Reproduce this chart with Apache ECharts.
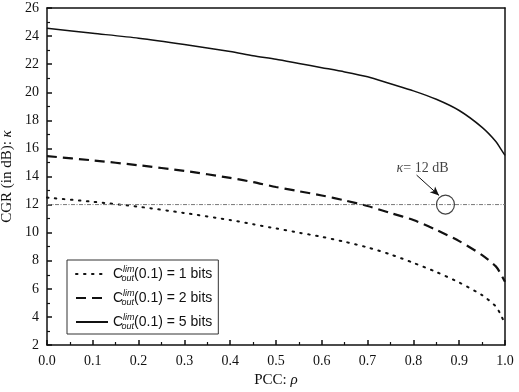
<!DOCTYPE html>
<html>
<head>
<meta charset="utf-8">
<script src="https://cdn.jsdelivr.net/npm/echarts@6/dist/echarts.min.js"></script>
<style>
  html, body { margin: 0; padding: 0; background: #fff; }
  #chart { width: 519px; height: 392px; }
</style>
</head>
<body>
<div id="chart"></div>
<script>
// PCC values (x) and CGR readings for each curve
var rho = [0, 0.1, 0.2, 0.3, 0.4, 0.45, 0.5, 0.55, 0.6, 0.65, 0.7, 0.75, 0.8, 0.85, 0.9, 0.95, 0.98, 0.99, 1.0]
var bits1 = [12.5, 12.2, 11.85, 11.4, 10.9, 10.6, 10.3, 10.0, 9.7, 9.35, 8.95, 8.45, 7.85, 7.2, 6.45, 5.55, 4.75, 4.2, 3.5]
var bits2 = [15.45, 15.15, 14.8, 14.4, 13.9, 13.6, 13.25, 12.95, 12.65, 12.3, 11.9, 11.4, 10.9, 10.2, 9.4, 8.4, 7.6, 7.1, 6.5]
var bits5 = [24.55, 24.2, 23.85, 23.4, 22.9, 22.6, 22.35, 22.05, 21.75, 21.45, 21.1, 20.6, 20.1, 19.5, 18.7, 17.5, 16.5, 16.0, 15.5]
var kappaLine = 12

function pairs(ys) {
  return rho.map(function (x, i) { return [x, ys[i]] })
}

var serif = '"Liberation Serif", "DejaVu Serif", serif'
var sans = '"Liberation Sans", Arial, sans-serif'

var myChart = echarts.init(document.getElementById('chart'))

var option = {
  animation: false,
  backgroundColor: '#fff',
  grid: {
    left: 47,
    right: 14,
    top: 8,
    bottom: 47,
    outerBoundsMode: 'none'
  },
  legend: {
    left: 67,
    top: 260,
    orient: 'vertical',
    itemWidth: 32,
    itemHeight: 10,
    itemGap: 6,
    padding: [5, 6, 3, 8],
    borderColor: '#333',
    borderWidth: 1,
    backgroundColor: '#fff',
    itemStyle: { opacity: 0 },
    data: ['b1', 'b2', 'b5'],
    formatter: function (n) {
      var b = n.slice(1)
      return '{c|C}{sup|lim}{sub|out}{t|(0.1) = ' + b + ' bits}'
    },
    textStyle: {
      color: '#111',
      fontFamily: sans,
      rich: {
        c: { fontSize: 14, fontFamily: sans, color: '#111' },
        sup: { fontSize: 9, fontStyle: 'italic', fontFamily: sans, color: '#111', verticalAlign: 'top', padding: [0, 0, 9, 0] },
        sub: { fontSize: 9, fontStyle: 'italic', fontFamily: sans, color: '#111', verticalAlign: 'bottom', padding: [8, 0, 0, -13] },
        t: { fontSize: 14, fontFamily: sans, color: '#111' }
      }
    }
  },
  xAxis: [{
    type: 'value',
    min: 0,
    max: 1,
    interval: 0.1,
    name: 'PCC: {i|ρ}',
    nameLocation: 'middle',
    nameGap: 28,
    nameTextStyle: {
      fontFamily: serif,
      fontSize: 15,
      color: '#111',
      rich: { i: { fontStyle: 'italic', fontFamily: serif, fontSize: 15, color: '#111' } }
    },
    axisLine: { onZero: false, lineStyle: { color: '#111', width: 1.5 } },
    axisTick: { inside: true, length: 5, lineStyle: { color: '#111', width: 1.5 } },
    minorTick: { show: true, splitNumber: 2, length: 3, lineStyle: { color: '#111', width: 1.2 } },
    axisLabel: {
      fontFamily: serif,
      fontSize: 14,
      color: '#111',
      margin: 9,
      formatter: function (v) { return v.toFixed(1) }
    },
    splitLine: { show: false }
  }, {
    type: 'value',
    position: 'top',
    min: 0,
    max: 1,
    axisLine: { onZero: false, lineStyle: { color: '#111', width: 1.5 } },
    axisTick: { show: false },
    axisLabel: { show: false },
    splitLine: { show: false }
  }],
  yAxis: [{
    type: 'value',
    min: 2,
    max: 26,
    interval: 2,
    name: 'CGR (in dB): {i|κ}',
    nameLocation: 'middle',
    nameGap: 27,
    nameTextStyle: {
      fontFamily: serif,
      fontSize: 15,
      color: '#111',
      rich: { i: { fontStyle: 'italic', fontFamily: serif, fontSize: 15, color: '#111' } }
    },
    axisLine: { onZero: false, lineStyle: { color: '#111', width: 1.5 } },
    axisTick: { inside: true, length: 5, lineStyle: { color: '#111', width: 1.5 } },
    minorTick: { show: true, splitNumber: 2, length: 3, lineStyle: { color: '#111', width: 1.2 } },
    axisLabel: { fontFamily: serif, fontSize: 14, color: '#111', margin: 8 },
    splitLine: { show: false }
  }, {
    type: 'value',
    position: 'right',
    min: 2,
    max: 26,
    axisLine: { show: true, onZero: false, lineStyle: { color: '#111', width: 1.5 } },
    axisTick: { show: false },
    axisLabel: { show: false },
    splitLine: { show: false }
  }],
  series: [
    {
      name: 'b1',
      type: 'line',
      data: pairs(bits1),
      smooth: 0.25,
      symbol: 'none',
      lineStyle: { color: '#111', width: 2, type: [1.5, 6.5], cap: 'round' },
      itemStyle: { color: '#111' }
    },
    {
      name: 'b2',
      type: 'line',
      data: pairs(bits2),
      smooth: 0.25,
      symbol: 'none',
      lineStyle: { color: '#111', width: 2.2, type: [10, 6] },
      itemStyle: { color: '#111' }
    },
    {
      name: 'b5',
      type: 'line',
      data: pairs(bits5),
      smooth: 0.25,
      symbol: 'none',
      lineStyle: { color: '#111', width: 1.5 },
      itemStyle: { color: '#111' }
    },
    {
      name: 'kappa',
      type: 'line',
      data: [[0, kappaLine], [1, kappaLine]],
      symbol: 'none',
      silent: true,
      lineStyle: { color: '#777', width: 1, type: [4, 1.5, 1, 1.5] },
      markLine: {
        silent: true,
        symbol: ['none', 'arrow'],
        symbolSize: [6, 9],
        label: { show: false },
        lineStyle: { color: '#111', width: 1, type: 'solid' },
        data: [[{ coord: [0.807, 14.1] }, { coord: [0.856, 12.65] }]]
      }
    },
    {
      name: 'mark',
      type: 'scatter',
      data: [[0.87, kappaLine]],
      symbol: 'circle',
      symbolSize: [18, 19],
      silent: true,
      itemStyle: { color: 'rgba(0,0,0,0)', borderColor: '#111', borderWidth: 1.2 },
      z: 5
    },
    {
      name: 'note',
      type: 'scatter',
      data: [[0.82, 14.6]],
      symbolSize: 0,
      silent: true,
      label: {
        show: true,
        position: 'inside',
        formatter: '{i|κ}{t|= 12 dB}',
        rich: {
          i: { fontStyle: 'italic', fontFamily: serif, fontSize: 14, color: '#111' },
          t: { fontFamily: serif, fontSize: 14, color: '#111' }
        }
      }
    }
  ]
}

myChart.setOption(option)
</script>
</body>
</html>
